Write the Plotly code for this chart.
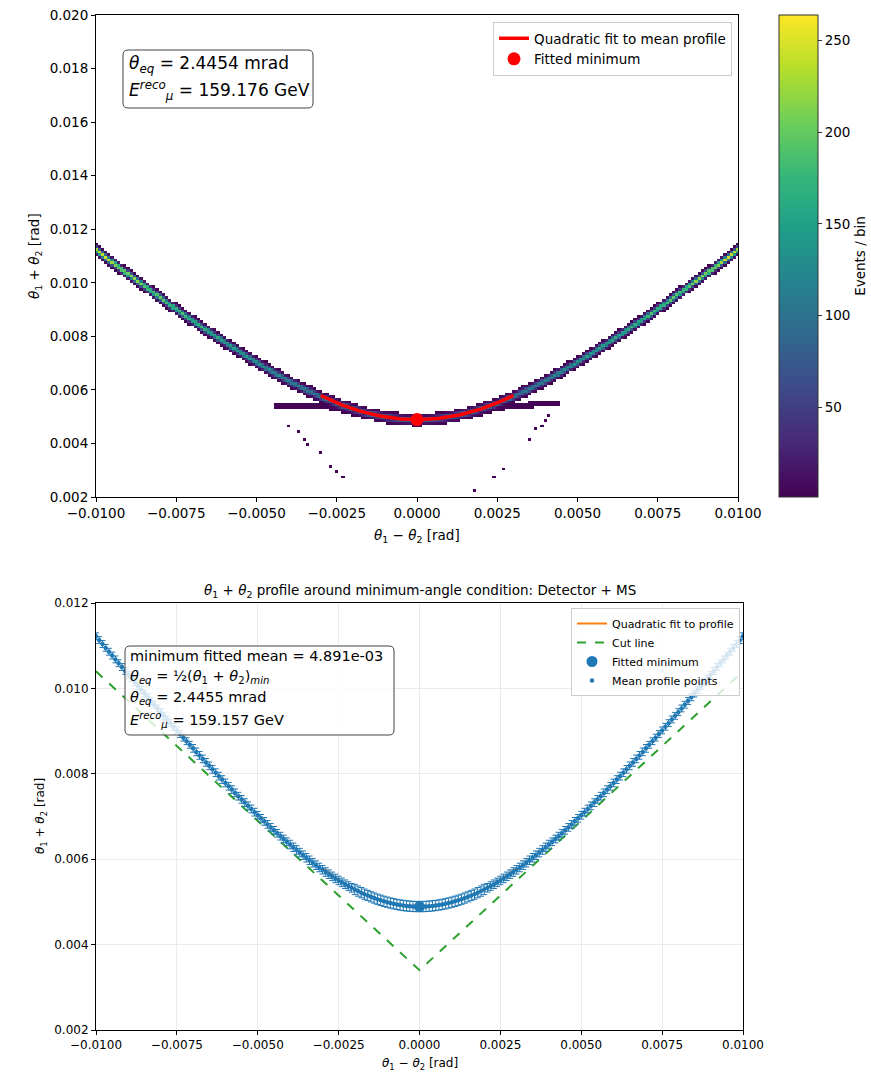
import numpy as np
import plotly.graph_objects as go

# ---------------------------------------------------------------------------
# Mean profile of theta1+theta2 in bins of theta1-theta2 (bin centres, mrad)
# ---------------------------------------------------------------------------
profile_dtheta_mrad = np.round(np.linspace(-10.0, 10.0, 201), 1)

profile_mean_mrad = [
    11.221, 11.130, 11.040, 10.949, 10.859, 10.769, 10.679, 10.589, 10.500, 10.410,
    10.321, 10.233, 10.144, 10.056, 9.967, 9.880, 9.792, 9.705, 9.617, 9.531,
    9.444, 9.358, 9.272, 9.186, 9.101, 9.016, 8.931, 8.847, 8.763, 8.679,
    8.596, 8.513, 8.431, 8.349, 8.267, 8.186, 8.105, 8.025, 7.945, 7.865,
    7.787, 7.708, 7.630, 7.553, 7.476, 7.400, 7.325, 7.250, 7.176, 7.102,
    7.029, 6.957, 6.886, 6.815, 6.745, 6.676, 6.607, 6.540, 6.473, 6.408,
    6.343, 6.279, 6.216, 6.154, 6.093, 6.034, 5.975, 5.918, 5.861, 5.806,
    5.752, 5.700, 5.649, 5.599, 5.550, 5.503, 5.458, 5.414, 5.371, 5.330,
    5.291, 5.253, 5.217, 5.182, 5.150, 5.119, 5.090, 5.063, 5.038, 5.014,
    4.993, 4.974, 4.956, 4.941, 4.927, 4.916, 4.906, 4.899, 4.894, 4.891,
    4.891,
    4.891, 4.894, 4.899, 4.906, 4.916, 4.927, 4.941, 4.956, 4.974, 4.993,
    5.014, 5.038, 5.063, 5.090, 5.119, 5.150, 5.182, 5.217, 5.253, 5.291,
    5.330, 5.371, 5.414, 5.458, 5.503, 5.550, 5.599, 5.649, 5.700, 5.752,
    5.806, 5.861, 5.918, 5.975, 6.034, 6.093, 6.154, 6.216, 6.279, 6.343,
    6.408, 6.473, 6.540, 6.607, 6.676, 6.745, 6.815, 6.886, 6.957, 7.029,
    7.102, 7.176, 7.250, 7.325, 7.400, 7.476, 7.553, 7.630, 7.708, 7.787,
    7.865, 7.945, 8.025, 8.105, 8.186, 8.267, 8.349, 8.431, 8.513, 8.596,
    8.679, 8.763, 8.847, 8.931, 9.016, 9.101, 9.186, 9.272, 9.358, 9.444,
    9.531, 9.617, 9.705, 9.792, 9.880, 9.967, 10.056, 10.144, 10.233, 10.321,
    10.410, 10.500, 10.589, 10.679, 10.769, 10.859, 10.949, 11.040, 11.130, 11.221,
]

profile_err_mrad = [
    0.08, 0.08, 0.08, 0.08, 0.08, 0.08, 0.08, 0.08, 0.08, 0.08,
    0.08, 0.08, 0.08, 0.08, 0.08, 0.08, 0.08, 0.08, 0.08, 0.08,
    0.08, 0.08, 0.08, 0.08, 0.08, 0.08, 0.08, 0.08, 0.08, 0.08,
    0.09, 0.09, 0.09, 0.09, 0.09, 0.09, 0.09, 0.09, 0.09, 0.09,
    0.09, 0.09, 0.09, 0.09, 0.09, 0.09, 0.09, 0.09, 0.09, 0.09,
    0.09, 0.09, 0.09, 0.09, 0.09, 0.09, 0.09, 0.09, 0.09, 0.09,
    0.10, 0.10, 0.10, 0.10, 0.10, 0.10, 0.10, 0.10, 0.10, 0.10,
    0.10, 0.10, 0.10, 0.10, 0.10, 0.10, 0.10, 0.10, 0.10, 0.10,
    0.12, 0.12, 0.12, 0.12, 0.12, 0.12, 0.12, 0.12, 0.12, 0.12,
    0.12, 0.12, 0.12, 0.12, 0.12, 0.12, 0.12, 0.12, 0.12, 0.12,
    0.12,
    0.12, 0.12, 0.12, 0.12, 0.12, 0.12, 0.12, 0.12, 0.12, 0.12,
    0.12, 0.12, 0.12, 0.12, 0.12, 0.12, 0.12, 0.12, 0.12, 0.12,
    0.10, 0.10, 0.10, 0.10, 0.10, 0.10, 0.10, 0.10, 0.10, 0.10,
    0.10, 0.10, 0.10, 0.10, 0.10, 0.10, 0.10, 0.10, 0.10, 0.10,
    0.09, 0.09, 0.09, 0.09, 0.09, 0.09, 0.09, 0.09, 0.09, 0.09,
    0.09, 0.09, 0.09, 0.09, 0.09, 0.09, 0.09, 0.09, 0.09, 0.09,
    0.09, 0.09, 0.09, 0.09, 0.09, 0.09, 0.09, 0.09, 0.09, 0.09,
    0.08, 0.08, 0.08, 0.08, 0.08, 0.08, 0.08, 0.08, 0.08, 0.08,
    0.08, 0.08, 0.08, 0.08, 0.08, 0.08, 0.08, 0.08, 0.08, 0.08,
    0.08, 0.08, 0.08, 0.08, 0.08, 0.08, 0.08, 0.08, 0.08, 0.08,
]

# ---------------------------------------------------------------------------
# 2D histogram content: brightest-bin count along the band, the band's
# vertical cross-section (in y-bins from its centre), the low-side shoulder
# and a few isolated entries
# ---------------------------------------------------------------------------
peak_dtheta_mrad = [-10, -9, -8, -7, -6, -5, -4, -3, -2, -1, 0,
                    1, 2, 3, 4, 5, 6, 7, 8, 9, 10]
peak_counts = [255, 230, 205, 185, 165, 145, 125, 110, 100, 95, 95,
               95, 100, 110, 125, 145, 165, 185, 205, 230, 255]

band_offset_bins = [0.0, 0.5, 1.0, 1.5, 2.0, 2.5]
band_weight = [1.0, 0.8, 0.4, 0.12, 0.025, 0.0]

shoulder_dtheta_mrad = [-4.4, -4.0, -3.5, -3.0, -2.5, -2.0, -1.5, -1.0, -0.5, 0.0,
                        0.5, 1.0, 1.5, 2.0, 2.5, 3.0, 3.5, 4.0, 4.4]
shoulder_sum_mrad = [5.42, 5.44, 5.44, 5.40, 5.30, 5.16, 5.02, 4.90, 4.80, 4.76,
                     4.80, 4.90, 5.02, 5.16, 5.30, 5.40, 5.45, 5.48, 5.50]
shoulder_counts = [3, 4, 4, 4, 4, 4, 4, 4, 4, 4, 4, 4, 4, 4, 4, 4, 4, 4, 3]
shoulder_offset_bins = [0.0, 0.5, 1.0, 1.5]
shoulder_weight = [1.0, 0.7, 0.3, 0.0]

stray_dtheta_mrad = [-3.96, -3.74, -3.49, -3.36, -3.05, -2.74, -2.49, -2.27,
                     3.49, 3.74, 3.89, 4.05, 4.14, 2.71, 2.43, 1.81]
stray_sum_mrad = [4.65, 4.47, 4.20, 3.98, 3.68, 3.12, 2.93, 2.78,
                  4.17, 4.58, 4.69, 4.84, 5.06, 3.08, 2.78, 2.22]
stray_counts = [2, 3, 2, 2, 3, 2, 2, 2, 2, 3, 2, 2, 3, 2, 2, 2]

# ---------------------------------------------------------------------------
# Fit results and selection
# ---------------------------------------------------------------------------
fit_min_top = 4.8908e-3        # 2 * 2.4454 mrad
fit_min_bottom = 4.891e-3      # 2 * 2.4455 mrad
fit_curvature = 100.0          # rad^-1
fit_half_range = 0.003         # rad

cut_dtheta = [-0.010, 0.0, 0.010]
cut_sum = [0.0104, 0.0034, 0.0104]

# Tick labels
x_tickvals = [-0.01, -0.0075, -0.005, -0.0025, 0.0, 0.0025, 0.005, 0.0075, 0.01]
x_ticktext = ["\u22120.0100", "\u22120.0075", "\u22120.0050", "\u22120.0025", "0.0000",
              "0.0025", "0.0050", "0.0075", "0.0100"]
y_top_tickvals = [0.002, 0.004, 0.006, 0.008, 0.010, 0.012, 0.014, 0.016, 0.018, 0.020]
y_top_ticktext = ["0.002", "0.004", "0.006", "0.008", "0.010", "0.012", "0.014",
                  "0.016", "0.018", "0.020"]
y_bot_tickvals = [0.002, 0.004, 0.006, 0.008, 0.010, 0.012]
y_bot_ticktext = ["0.002", "0.004", "0.006", "0.008", "0.010", "0.012"]
cbar_tickvals = [50, 100, 150, 200, 250]

# ---------------------------------------------------------------------------
# Build histogram table (columns = profile bins, rows = 0.1 mrad in y)
# ---------------------------------------------------------------------------
x_c = profile_dtheta_mrad / 1000.0
mean = np.array(profile_mean_mrad) / 1000.0
err = np.array(profile_err_mrad) / 1000.0

y_edges = np.linspace(0.002, 0.020, 181)
y_c = 0.5 * (y_edges[:-1] + y_edges[1:])
dy = y_edges[1] - y_edges[0]

Z = np.zeros((y_c.size, x_c.size))
for j, (xm, ym) in enumerate(zip(profile_dtheta_mrad, mean)):
    pk = np.interp(xm, peak_dtheta_mrad, peak_counts)
    d = np.abs(y_c - ym) / dy
    Z[:, j] += pk * np.interp(d, band_offset_bins, band_weight, right=0.0)
    if shoulder_dtheta_mrad[0] <= xm <= shoulder_dtheta_mrad[-1]:
        sy = np.interp(xm, shoulder_dtheta_mrad, shoulder_sum_mrad) / 1000.0
        sc = np.interp(xm, shoulder_dtheta_mrad, shoulder_counts)
        d2 = np.abs(y_c - sy) / dy
        Z[:, j] += sc * np.interp(d2, shoulder_offset_bins, shoulder_weight, right=0.0)
for sx, sy, sc in zip(stray_dtheta_mrad, stray_sum_mrad, stray_counts):
    j = int(np.argmin(np.abs(x_c - sx / 1000.0)))
    i = int(np.argmin(np.abs(y_c - sy / 1000.0)))
    Z[i, j] += sc
Z = np.floor(Z)
Z[Z < 1] = np.nan

# ---------------------------------------------------------------------------
# Layout geometry (paper fractions)
# ---------------------------------------------------------------------------
W, H = 871, 1074
def px_x(p):
    return p / W
def px_y(p):
    return 1 - p / H

top_x = [px_x(96), px_x(738)]
top_y = [px_y(497), px_y(15)]
bot_x = [px_x(96), px_x(743)]
bot_y = [px_y(1030), px_y(603)]

FONT = "DejaVu Sans"
BLUE = "#1f77b4"
ORANGE = "#ff7f0e"
GREEN = "#2ca02c"

fig = go.Figure()

# ----- upper panel: 2D histogram ------------------------------------------
fig.add_trace(go.Heatmap(
    x=x_c, y=y_c, z=Z, colorscale="Viridis", zmin=1, zmax=264,
    hoverongaps=False, showscale=True, xaxis="x", yaxis="y",
    colorbar=dict(
        x=px_x(779), xanchor="left", y=(top_y[0] + top_y[1]) / 2, yanchor="middle",
        len=(497 - 15) / H, lenmode="fraction", thickness=39, thicknessmode="pixels",
        xpad=0, ypad=0, outlinewidth=1, outlinecolor="#333",
        tickvals=cbar_tickvals, ticks="outside", ticklen=4, tickcolor="#333",
        tickfont=dict(family=FONT, size=13.5, color="black"),
        title=dict(text="Events / bin", side="right",
                   font=dict(family=FONT, size=13.5, color="black")),
    ),
))

xf = np.linspace(-fit_half_range, fit_half_range, 121)
fig.add_trace(go.Scatter(
    x=xf, y=fit_min_top + fit_curvature * xf ** 2, mode="lines",
    line=dict(color="red", width=3.5), name="Quadratic fit to mean profile",
    xaxis="x", yaxis="y", legend="legend", hoverinfo="skip",
))
fig.add_trace(go.Scatter(
    x=[0.0], y=[fit_min_top], mode="markers",
    marker=dict(color="red", size=13), name="Fitted minimum",
    xaxis="x", yaxis="y", legend="legend",
))

# ----- lower panel: profile ----------------------------------------------
fig.add_trace(go.Scatter(
    x=xf, y=fit_min_bottom + fit_curvature * xf ** 2, mode="lines",
    line=dict(color=ORANGE, width=2), name="Quadratic fit to profile",
    xaxis="x2", yaxis="y2", legend="legend2", legendrank=1,
))
fig.add_trace(go.Scatter(
    x=cut_dtheta, y=cut_sum, mode="lines",
    line=dict(color=GREEN, width=2, dash="dash"), name="Cut line",
    xaxis="x2", yaxis="y2", legend="legend2", legendrank=2,
))
fig.add_trace(go.Scatter(
    x=x_c, y=mean, mode="markers",
    marker=dict(color=BLUE, size=4.5),
    error_y=dict(type="data", array=err, color=BLUE, thickness=1, width=3),
    name="Mean profile points",
    xaxis="x2", yaxis="y2", legend="legend2", legendrank=4,
))
fig.add_trace(go.Scatter(
    x=[0.0], y=[fit_min_bottom], mode="markers",
    marker=dict(color=BLUE, size=11), name="Fitted minimum",
    xaxis="x2", yaxis="y2", legend="legend2", legendrank=3,
))

axis_common = dict(
    showline=True, linecolor="black", linewidth=1, mirror=True, automargin=False,
    ticks="outside", ticklen=4, tickcolor="black", zeroline=False,
)

fig.update_layout(
    width=W, height=H, margin=dict(l=0, r=0, t=0, b=0, autoexpand=False),
    paper_bgcolor="white", plot_bgcolor="white",
    font=dict(family=FONT, color="black"),
    xaxis=dict(domain=top_x, anchor="y", range=[-0.01, 0.01],
               tickvals=x_tickvals, ticktext=x_ticktext, showgrid=False,
               tickfont=dict(size=13.5), **axis_common),
    yaxis=dict(domain=top_y, anchor="x", range=[0.002, 0.020],
               tickvals=y_top_tickvals, ticktext=y_top_ticktext, showgrid=False,
               tickfont=dict(size=13.5), **axis_common),
    xaxis2=dict(domain=bot_x, anchor="y2", range=[-0.01, 0.01],
                tickvals=x_tickvals, ticktext=x_ticktext, showgrid=True,
                gridcolor="#ebebeb", gridwidth=1,
                tickfont=dict(size=12), **axis_common),
    yaxis2=dict(domain=bot_y, anchor="x2", range=[0.002, 0.012],
                tickvals=y_bot_tickvals, ticktext=y_bot_ticktext, showgrid=True,
                gridcolor="#ebebeb", gridwidth=1,
                tickfont=dict(size=12), **axis_common),
    legend=dict(x=px_x(732), xanchor="right", y=px_y(22), yanchor="top",
                bgcolor="rgba(255,255,255,0.8)", bordercolor="#cccccc", borderwidth=1,
                font=dict(family=FONT, size=13.5)),
    legend2=dict(x=px_x(740), xanchor="right", y=px_y(608), yanchor="top",
                 bgcolor="rgba(255,255,255,0.8)", bordercolor="#cccccc", borderwidth=1,
                 font=dict(family=FONT, size=11)),
    showlegend=True,
)

# Rounded, semi-transparent boxes behind the fit summaries
def rounded_box(x0, y0, x1, y1, r=5):
    X0, X1 = px_x(x0), px_x(x1)
    Y0, Y1 = px_y(y0), px_y(y1)          # Y0 = top, Y1 = bottom
    rx, ry = r / W, r / H
    path = (f"M {X0 + rx},{Y0} L {X1 - rx},{Y0} Q {X1},{Y0} {X1},{Y0 - ry} "
            f"L {X1},{Y1 + ry} Q {X1},{Y1} {X1 - rx},{Y1} "
            f"L {X0 + rx},{Y1} Q {X0},{Y1} {X0},{Y1 + ry} "
            f"L {X0},{Y0 - ry} Q {X0},{Y0} {X0 + rx},{Y0} Z")
    return dict(type="path", path=path, xref="paper", yref="paper", layer="above",
                fillcolor="rgba(255,255,255,0.8)", line=dict(color="#444", width=1))

fig.update_layout(shapes=[
    rounded_box(123, 50, 313, 108),
    rounded_box(125, 646, 394, 735),
])

TH1 = "<i>θ</i><sub>1</sub>"
TH2 = "<i>θ</i><sub>2</sub>"
THEQ = "<i>θ</i><sub><i>eq</i></sub>"
EMU = "<i>E</i><sup><i>reco</i></sup><sub><i>μ</i></sub>"

annotations = [
    # axis titles, upper panel
    dict(text=f"{TH1} \u2212 {TH2} [rad]", x=px_x(417), y=px_y(536),
         xanchor="center", yanchor="middle", font=dict(size=13.5)),
    dict(text=f"{TH1} + {TH2} [rad]", x=px_x(35), y=px_y(256), textangle=-90,
         xanchor="center", yanchor="middle", font=dict(size=13.5)),
    # axis titles, lower panel
    dict(text=f"{TH1} \u2212 {TH2} [rad]", x=px_x(420), y=px_y(1064),
         xanchor="center", yanchor="middle", font=dict(size=12)),
    dict(text=f"{TH1} + {TH2} [rad]", x=px_x(41), y=px_y(816), textangle=-90,
         xanchor="center", yanchor="middle", font=dict(size=12)),
    # lower panel title
    dict(text=f"{TH1} + {TH2} profile around minimum-angle condition: Detector + MS",
         x=px_x(420), y=px_y(591), xanchor="center", yanchor="middle",
         font=dict(size=13.5)),
]

# fit summary, upper panel (one line per annotation)
for text, yc in [(f"{THEQ} = 2.4454 mrad", 64), (f"{EMU} = 159.176 GeV", 91)]:
    annotations.append(dict(text=text, x=px_x(127), y=px_y(yc), xanchor="left",
                            yanchor="middle", align="left", font=dict(size=17)))

# fit summary, lower panel
for text, yc in [("minimum fitted mean = 4.891e-03", 656),
                 (f"{THEQ} = ½({TH1} + {TH2})<sub><i>min</i></sub>", 677),
                 (f"{THEQ} = 2.4455 mrad", 698),
                 (f"{EMU} = 159.157 GeV", 720)]:
    annotations.append(dict(text=text, x=px_x(128), y=px_y(yc), xanchor="left",
                            yanchor="middle", align="left", font=dict(size=14.5)))

for a in annotations:
    a.update(xref="paper", yref="paper", showarrow=False)
    a.setdefault("font", {})
    a["font"].setdefault("family", FONT)
    a["font"].setdefault("color", "black")
fig.update_layout(annotations=annotations)

fig.write_html("out.html")
